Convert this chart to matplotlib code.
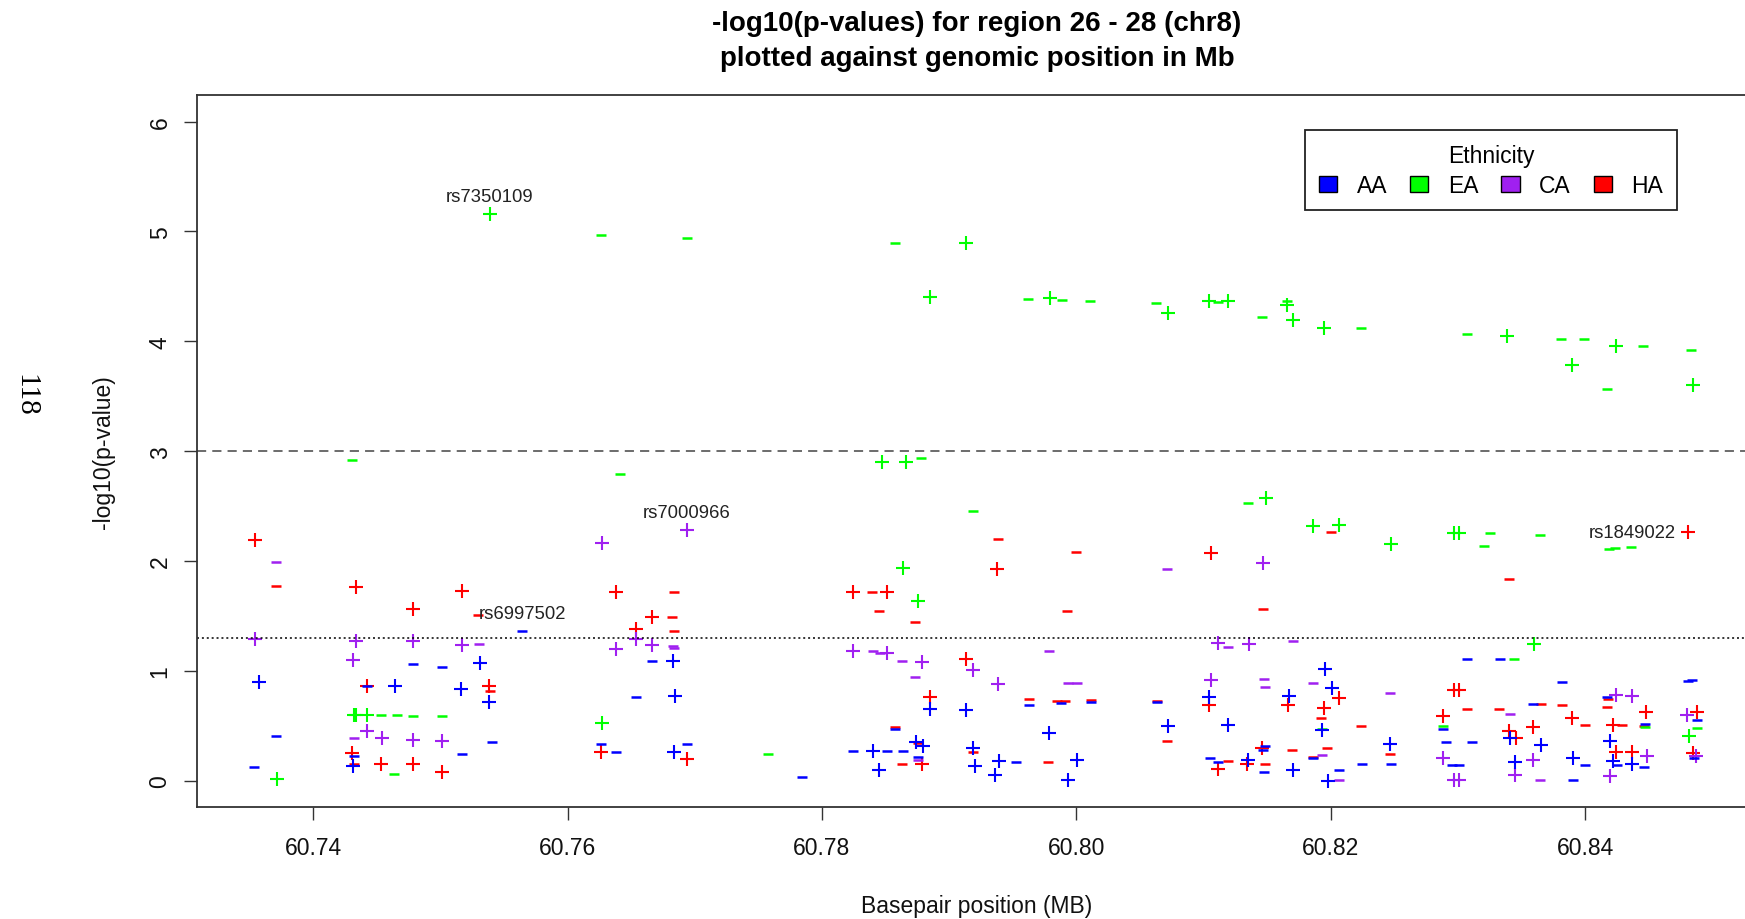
import math
import matplotlib.pyplot as plt
from matplotlib.patches import Patch

plt.rcParams['font.family'] = ['Liberation Sans', 'DejaVu Sans']

# -log10(p) per SNP, split by ethnicity and effect direction (+ / -)
aa_up_pos = [60.73575, 60.74640, 60.74312, 60.75311, 60.75158, 60.75384, 60.76826, 60.76844,
             60.76839, 60.78849, 60.79132, 60.78398, 60.78739, 60.78792, 60.78451, 60.79190,
             60.79203, 60.79395, 60.79361, 60.79788, 60.80007, 60.79937, 60.81046, 60.81675,
             60.81955, 60.82013, 60.81932, 60.80718, 60.81195, 60.81352, 60.81701, 60.81976,
             60.82466, 60.83409, 60.83651, 60.83450, 60.83903, 60.84196, 60.84222, 60.84367]
aa_up_logp = [0.902, 0.862, 0.140, 1.075, 0.838, 0.716, 1.090, 0.771,
              0.261, 0.650, 0.641, 0.270, 0.355, 0.316, 0.103, 0.301,
              0.134, 0.185, 0.052, 0.437, 0.194, 0.012, 0.762, 0.771,
              1.020, 0.847, 0.461, 0.498, 0.507, 0.194, 0.103, 0.000,
              0.340, 0.392, 0.331, 0.170, 0.209, 0.367, 0.179, 0.155]
aa_down_pos = [60.73706, 60.73536, 60.74422, 60.74322, 60.75166, 60.74784, 60.75009, 60.75402,
               60.75641, 60.76661, 60.76537, 60.76262, 60.76380, 60.76936, 60.77840, 60.79628,
               60.79880, 60.80115, 60.80632, 60.78574, 60.78246, 60.78508, 60.78634, 60.78757,
               60.79523, 60.81051, 60.81112, 60.81475, 60.81483, 60.81470, 60.81858, 60.82065,
               60.82244, 60.82471, 60.83069, 60.82880, 60.82904, 60.83111, 60.82951, 60.83011,
               60.83331, 60.83816, 60.83593, 60.84000, 60.83908, 60.84170, 60.84248, 60.84470,
               60.84463, 60.84812, 60.84838, 60.84878, 60.84860]
aa_down_logp = [0.407, 0.128, 0.862, 0.225, 0.249, 1.060, 1.035, 0.352,
                1.363, 1.090, 0.762, 0.340, 0.261, 0.340, 0.036, 0.695,
                0.710, 0.719, 0.716, 0.474, 0.270, 0.270, 0.270, 0.219,
                0.170, 0.209, 0.170, 0.079, 0.322, 0.285, 0.209, 0.103,
                0.155, 0.155, 1.114, 0.474, 0.352, 0.352, 0.143, 0.143,
                1.114, 0.902, 0.704, 0.143, 0.012, 0.762, 0.149, 0.519,
                0.128, 0.908, 0.917, 0.553, 0.209]

ea_up_pos = [60.75387, 60.73712, 60.74317, 60.74338, 60.74422, 60.76270, 60.78474, 60.78658,
             60.78634, 60.78757, 60.79133, 60.78849, 60.79790, 60.80718, 60.81042, 60.81192,
             60.81658, 60.81702, 60.81951, 60.83389, 60.83899, 60.84245, 60.84849, 60.81489,
             60.81858, 60.82068, 60.82472, 60.82972, 60.83012, 60.83599, 60.84817]
ea_up_logp = [5.156, 0.021, 0.598, 0.598, 0.598, 0.528, 2.905, 2.905,
              1.940, 1.636, 4.893, 4.405, 4.399, 4.256, 4.368, 4.368,
              4.328, 4.195, 4.125, 4.050, 3.788, 3.958, 3.603, 2.577,
              2.319, 2.328, 2.158, 2.253, 2.253, 1.242, 0.407]
ea_down_pos = [60.76262, 60.76936, 60.74307, 60.74532, 60.74658, 60.74784, 60.75009, 60.74634,
               60.76412, 60.77578, 60.78778, 60.79185, 60.78574, 60.79622, 60.79887, 60.80109,
               60.80629, 60.81117, 60.81458, 60.81658, 60.82239, 60.83070, 60.83815, 60.83992,
               60.84458, 60.84170, 60.84831, 60.81347, 60.81932, 60.82880, 60.83253, 60.83206,
               60.83646, 60.84191, 60.84236, 60.84361, 60.83444, 60.84470, 60.84878]
ea_down_logp = [4.972, 4.945, 2.920, 0.598, 0.598, 0.589, 0.589, 0.067,
                2.796, 0.249, 2.936, 2.453, 4.893, 4.383, 4.380, 4.368,
                4.353, 4.359, 4.222, 4.368, 4.119, 4.066, 4.025, 4.025,
                3.958, 3.564, 3.919, 2.532, 0.477, 0.498, 2.253, 2.137,
                2.240, 2.113, 2.122, 2.125, 1.114, 0.489, 0.483]

ca_up_pos = [60.73541, 60.74333, 60.74312, 60.74422, 60.74537, 60.74784, 60.75009, 60.74784,
             60.75172, 60.76270, 60.76938, 60.76537, 60.76380, 60.76666, 60.78246, 60.78513,
             60.78783, 60.79190, 60.79381, 60.81465, 60.81117, 60.81355, 60.81059, 60.82880,
             60.82969, 60.83011, 60.83594, 60.83450, 60.84241, 60.84367, 60.84196, 60.84484,
             60.84799, 60.84873]
ca_up_logp = [1.296, 1.272, 1.102, 0.452, 0.392, 0.376, 0.361, 1.272,
              1.233, 2.168, 2.280, 1.293, 1.205, 1.233, 1.181, 1.166,
              1.084, 1.008, 0.886, 1.979, 1.257, 1.242, 0.917, 0.209,
              0.012, 0.012, 0.194, 0.058, 0.786, 0.771, 0.042, 0.225,
              0.598, 0.225]
ca_down_pos = [60.73706, 60.74322, 60.75303, 60.76830, 60.76839, 60.78398, 60.78456, 60.78626,
               60.78731, 60.79785, 60.79937, 60.80003, 60.78757, 60.80715, 60.81190, 60.81701,
               60.81475, 60.81483, 60.81858, 60.82466, 60.81929, 60.82065, 60.83409, 60.83646]
ca_down_logp = [1.991, 0.392, 1.248, 1.226, 1.208, 1.181, 1.166, 1.090,
                0.944, 1.181, 0.893, 0.893, 0.194, 1.925, 1.217, 1.272,
                0.923, 0.853, 0.893, 0.801, 0.234, 0.012, 0.613, 0.012]

ha_up_pos = [60.73541, 60.74333, 60.74422, 60.74307, 60.74535, 60.74784, 60.75009, 60.75166,
             60.74784, 60.75384, 60.76380, 60.76666, 60.76537, 60.76262, 60.76936, 60.79378,
             60.78246, 60.78508, 60.79132, 60.78849, 60.78783, 60.81059, 60.81046, 60.81667,
             60.82065, 60.81950, 60.81112, 60.81339, 60.81460, 60.82880, 60.82969, 60.83011,
             60.84812, 60.83402, 60.83455, 60.83594, 60.83900, 60.84222, 60.84241, 60.84367,
             60.84477, 60.84878, 60.84847]
ha_up_logp = [2.189, 1.767, 0.862, 0.255, 0.155, 0.155, 0.082, 1.727,
              1.560, 0.862, 1.718, 1.494, 1.378, 0.261, 0.203, 1.925,
              1.718, 1.718, 1.114, 0.762, 0.155, 2.070, 0.695, 0.695,
              0.756, 0.665, 0.109, 0.155, 0.301, 0.589, 0.823, 0.823,
              2.265, 0.452, 0.392, 0.489, 0.574, 0.513, 0.261, 0.261,
              0.625, 0.625, 0.255]
ha_down_pos = [60.73706, 60.74322, 60.75292, 60.75389, 60.76839, 60.76821, 60.76839, 60.79386,
               60.79997, 60.78390, 60.78448, 60.78731, 60.79929, 60.79628, 60.79850, 60.79910,
               60.80115, 60.80632, 60.78574, 60.78757, 60.78626, 60.79190, 60.79780, 60.82002,
               60.81470, 60.81926, 60.82236, 60.80715, 60.81190, 60.81483, 60.81699, 60.81858,
               60.81968, 60.82466, 60.83069, 60.83405, 60.83651, 60.83816, 60.83326, 60.84000,
               60.84183, 60.84170, 60.84288, 60.84464]
ha_down_logp = [1.773, 0.155, 1.509, 0.817, 1.718, 1.494, 1.363, 2.204,
                2.083, 1.718, 1.545, 1.445, 1.545, 0.750, 0.725, 0.725,
                0.735, 0.731, 0.489, 0.346, 0.158, 0.261, 0.170, 2.268,
                1.560, 0.574, 0.498, 0.367, 0.179, 0.155, 0.285, 0.216,
                0.301, 0.249, 0.656, 1.834, 0.704, 0.695, 0.656, 0.513,
                0.747, 0.671, 0.513, 0.504]

# annotated SNPs
snp_names = ["rs7350109", "rs6997502", "rs7000966", "rs1849022"]
snp_pos = [60.75387, 60.75641, 60.76938, 60.84812]
snp_logp = [5.156, 1.363, 2.280, 2.265]
snp_side = ["above", "above", "above", "left"]

x_ticks = [60.74, 60.76, 60.78, 60.80, 60.82, 60.84]
x_tick_labels = ["60.74", "60.76", "60.78", "60.80", "60.82", "60.84"]
y_ticks = [0, 1, 2, 3, 4, 5, 6]

eth_names = ["AA", "EA", "CA", "HA"]
eth_colors = ["#0000FF", "#00FF00", "#A020F0", "#FF0000"]

groups = {
    "AA": (aa_up_pos, aa_up_logp, aa_down_pos, aa_down_logp),
    "EA": (ea_up_pos, ea_up_logp, ea_down_pos, ea_down_logp),
    "CA": (ca_up_pos, ca_up_logp, ca_down_pos, ca_down_logp),
    "HA": (ha_up_pos, ha_up_logp, ha_down_pos, ha_down_logp),
}

fig = plt.figure(figsize=(17.45, 9.2), dpi=100)
ax = fig.add_axes([0.11307, 0.12141, 0.89364, 0.77402])

# HA first so AA ends up on top
for name, col in reversed(list(zip(eth_names, eth_colors))):
    up_x, up_y, dn_x, dn_y = groups[name]
    ax.plot(up_x, up_y, ls='none', marker='+', ms=9.6, mew=1.5, color=col)
    ax.plot(dn_x, dn_y, ls='none', marker='_', ms=6.5, mew=1.8, color=col)

# significance thresholds
ax.axhline(3, color='#444444', lw=1.1, ls=(0, (6, 4)))
ax.axhline(-math.log10(0.05), color='black', lw=1.1, ls=(0, (1.3, 1.9)))

for name, x, y, side in zip(snp_names, snp_pos, snp_logp, snp_side):
    if side == "left":
        ax.annotate(name, (x, y), xytext=(-9, 0), textcoords='offset points',
                    ha='right', va='center', fontsize=13.3, color='#222222')
    else:
        ax.annotate(name, (x, y), xytext=(0, 13), textcoords='offset points',
                    ha='center', va='center', fontsize=13.3, color='#222222')

ax.set_xlim(60.73088, 60.85350)
ax.set_ylim(-0.24, 6.24)
ax.set_xticks(x_ticks)
ax.set_xticklabels(x_tick_labels)
ax.set_yticks(y_ticks)
ax.tick_params(axis='both', length=9.5, width=1, color='#333333', labelsize=16.5,
               labelcolor='#111111')
ax.tick_params(axis='x', pad=11)
ax.tick_params(axis='y', pad=9, labelrotation=90)
for lab in ax.get_yticklabels():
    lab.set_va('center')
for s in ax.spines.values():
    s.set_linewidth(1.3)
    s.set_color('#333333')

ax.set_xlabel("Basepair position (MB)", fontsize=16.5, color='#111111')
ax.xaxis.set_label_coords(0.5, -0.1372)
ax.xaxis.label.set_va('center')
ax.set_ylabel("-log10(p-value)", fontsize=16.5, color='#111111')
ax.yaxis.set_label_coords(-0.0602, 0.5)
ax.yaxis.label.set_va('center')

ax.text(0.5, 1.1012, "-log10(p-values) for region 26 - 28 (chr8)", transform=ax.transAxes,
        ha='center', va='center', fontsize=20, fontweight='bold')
ax.text(0.5, 1.0521, "plotted against genomic position in Mb", transform=ax.transAxes,
        ha='center', va='center', fontsize=20, fontweight='bold')

handles = [Patch(facecolor=c, edgecolor='black', lw=1, label=n)
           for n, c in zip(eth_names, eth_colors)]
leg = ax.legend(handles=handles, title="Ethnicity", ncol=4, loc='upper right',
                bbox_to_anchor=(1677 / 1745, 1 - 131 / 920), bbox_transform=fig.transFigure,
                fontsize=16.5, title_fontsize=16.5, handlelength=0.8, handleheight=0.7,
                handletextpad=0.85, columnspacing=1.0, borderpad=0.6, borderaxespad=0,
                fancybox=False, framealpha=1, edgecolor='#222222')
leg.get_frame().set_linewidth(1.3)
leg._legend_box.sep = 5

# page number
fig.text(25 / 1745, 1 - 395 / 920, "118", rotation=270, family='Liberation Serif',
         fontsize=21, ha='center', va='center')

fig.savefig("out.png", dpi=100)
